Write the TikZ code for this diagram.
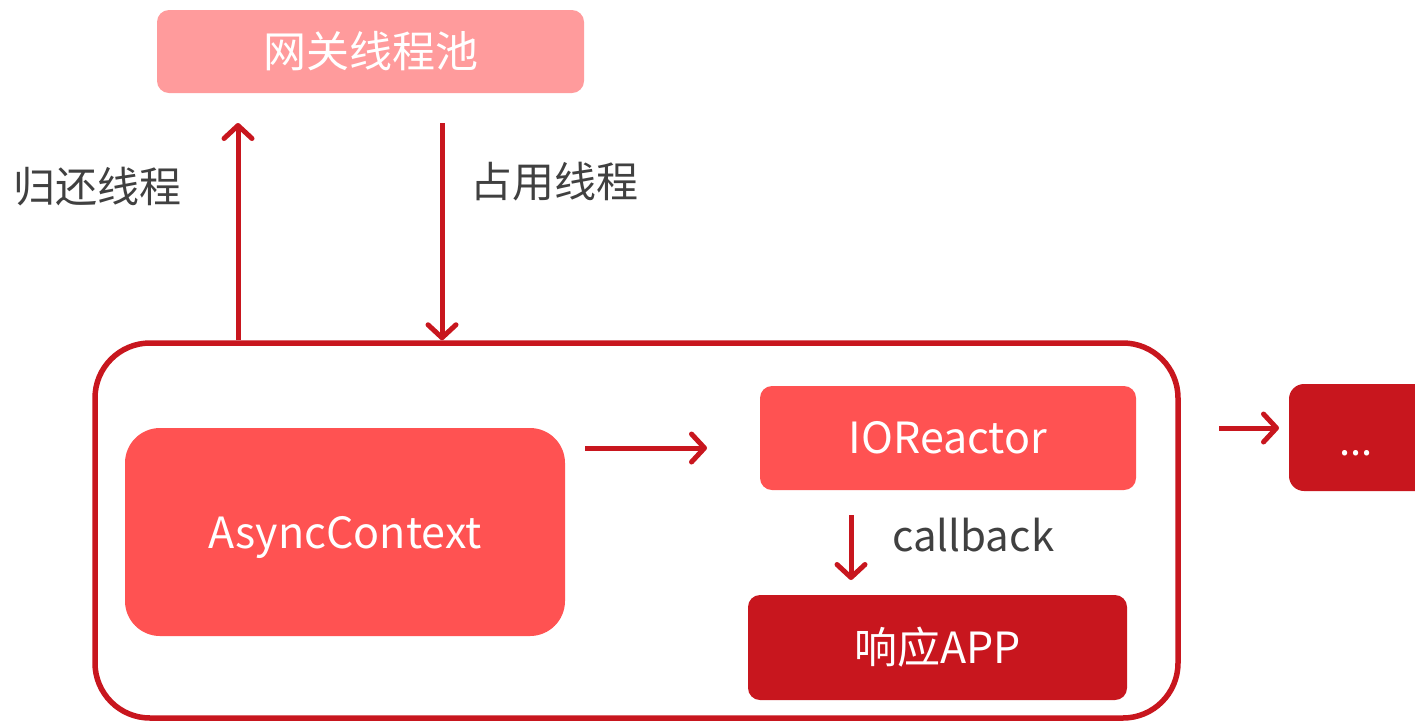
\documentclass[tikz,border=0pt]{standalone}
\usepackage{fontspec}
\setmainfont{Noto Sans CJK SC}
\usetikzlibrary{arrows.meta}
\definecolor{poolpink}{HTML}{FF9B9C}
\definecolor{boxred}{HTML}{FF5252}
\definecolor{deepred}{HTML}{C8161E}
\definecolor{labelgray}{HTML}{404040}
\tikzset{
  x=1pt, y=-1pt,
  flow/.style={draw=deepred, line width=5pt,
    -{Straight Barb[length=13pt,width=28pt,line cap=round,line join=round]}},
  block/.style={rectangle, inner sep=0pt, text=white, font=\fontsize{43}{50}\selectfont},
  lbl/.style={text=labelgray, font=\fontsize{42}{50}\selectfont, inner sep=0pt}
}
\begin{document}
\begin{tikzpicture}
\useasboundingbox (0,0) rectangle (1415,721);

% gateway thread pool
\node[block, fill=poolpink, rounded corners=12pt, minimum width=427pt, minimum height=83pt]
  (pool) at (370.5,51.5) {网关线程池};

% container of the async request handling
\node[draw=deepred, line width=5.5pt, rounded corners=55pt, minimum width=1083pt, minimum height=375pt, inner sep=0pt]
  (frame) at (636.5,530.5) {};

\node[block, fill=boxred, rounded corners=35pt, minimum width=440pt, minimum height=208pt]
  (ctx) at (345,532) {};
\node[text=white, font=\fontsize{43}{50}\selectfont, inner sep=0pt] (ctxlabel) at (345,537) {AsyncContext};
\node[block, fill=boxred, rounded corners=12pt, minimum width=376pt, minimum height=104pt]
  (reactor) at (948,438) {IOReactor};
\node[block, fill=deepred, rounded corners=12pt, minimum width=379pt, minimum height=105pt]
  (resp) at (937.5,647.5) {响应APP};
\node[block, fill=deepred, rounded corners=15pt, minimum width=150pt, minimum height=107pt]
  (more) at (1364,437.5) {};
\node[text=white, font=\fontsize{40}{48}\selectfont, inner sep=0pt] (dots) at (1356,453) {...};

% connectors
\coordinate (retTop) at (238,123);
\coordinate (takeTop) at (442,123);
\draw[flow] (frame.north -| retTop) -- (retTop);
\draw[flow] (takeTop) -- (frame.north -| takeTop);
\coordinate (a1) at (585,448);
\coordinate (a2) at (707,448);
\draw[flow] (a1) -- (a2);
\coordinate (c1) at (851,515);
\coordinate (c2) at (851,580);
\draw[flow] (c1) -- (c2);
\coordinate (m1) at (1219,428);
\coordinate (m2) at (1279,428);
\draw[flow] (m1) -- (m2);

% labels
\node[lbl, anchor=west] (ret) at (13,187) {归还线程};
\node[lbl, anchor=west] (take) at (470,182) {占用线程};
\node[lbl, anchor=west] (cb) at (892,535) {callback};
\end{tikzpicture}
\end{document}
